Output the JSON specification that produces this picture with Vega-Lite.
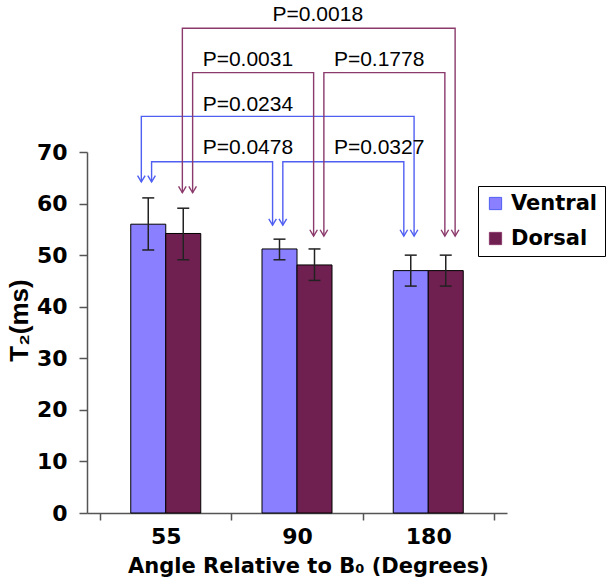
{
  "$schema": "https://vega.github.io/schema/vega-lite/v6.json",
  "width": 420,
  "height": 361,
  "autosize": {"type": "none"},
  "padding": {"left": 87, "top": 152, "right": 103, "bottom": 74},
  "background": "white",
  "config": {"font": "Liberation Sans", "view": {"stroke": null}},
  "datasets": {
    "bars": [
      {"angle": "55", "side": "Ventral", "t2": 56.0, "lo": 51.0, "hi": 61.1},
      {"angle": "55", "side": "Dorsal", "t2": 54.2, "lo": 49.1, "hi": 59.1},
      {"angle": "90", "side": "Ventral", "t2": 51.2, "lo": 49.1, "hi": 53.1},
      {"angle": "90", "side": "Dorsal", "t2": 48.1, "lo": 45.1, "hi": 51.2},
      {"angle": "180", "side": "Ventral", "t2": 47.0, "lo": 44.0, "hi": 50.0},
      {"angle": "180", "side": "Dorsal", "t2": 47.0, "lo": 44.0, "hi": 50.0}
    ],
    "brackets": [
      {"p": "P=0.0478", "grp": "Ventral", "seq": 1, "angle": "55", "slot": "Ventral 2", "y": 64.2},
      {"p": "P=0.0478", "grp": "Ventral", "seq": 2, "angle": "55", "slot": "Ventral 2", "y": 68.1},
      {"p": "P=0.0478", "grp": "Ventral", "seq": 3, "angle": "90", "slot": "Ventral 1", "y": 68.1},
      {"p": "P=0.0478", "grp": "Ventral", "seq": 4, "angle": "90", "slot": "Ventral 1", "y": 55.8},
      {"p": "P=0.0327", "grp": "Ventral", "seq": 1, "angle": "90", "slot": "Ventral 2", "y": 55.8},
      {"p": "P=0.0327", "grp": "Ventral", "seq": 2, "angle": "90", "slot": "Ventral 2", "y": 68.1},
      {"p": "P=0.0327", "grp": "Ventral", "seq": 3, "angle": "180", "slot": "Ventral 1", "y": 68.1},
      {"p": "P=0.0327", "grp": "Ventral", "seq": 4, "angle": "180", "slot": "Ventral 1", "y": 53.7},
      {"p": "P=0.0234", "grp": "Ventral", "seq": 1, "angle": "55", "slot": "Ventral 1", "y": 64.2},
      {"p": "P=0.0234", "grp": "Ventral", "seq": 2, "angle": "55", "slot": "Ventral 1", "y": 76.9},
      {"p": "P=0.0234", "grp": "Ventral", "seq": 3, "angle": "180", "slot": "Ventral 2", "y": 76.9},
      {"p": "P=0.0234", "grp": "Ventral", "seq": 4, "angle": "180", "slot": "Ventral 2", "y": 53.7},
      {"p": "P=0.0031", "grp": "Dorsal", "seq": 1, "angle": "55", "slot": "Dorsal 2", "y": 62.1},
      {"p": "P=0.0031", "grp": "Dorsal", "seq": 2, "angle": "55", "slot": "Dorsal 2", "y": 85.4},
      {"p": "P=0.0031", "grp": "Dorsal", "seq": 3, "angle": "90", "slot": "Dorsal 1", "y": 85.4},
      {"p": "P=0.0031", "grp": "Dorsal", "seq": 4, "angle": "90", "slot": "Dorsal 1", "y": 53.7},
      {"p": "P=0.1778", "grp": "Dorsal", "seq": 1, "angle": "90", "slot": "Dorsal 2", "y": 53.7},
      {"p": "P=0.1778", "grp": "Dorsal", "seq": 2, "angle": "90", "slot": "Dorsal 2", "y": 85.4},
      {"p": "P=0.1778", "grp": "Dorsal", "seq": 3, "angle": "180", "slot": "Dorsal 1", "y": 85.4},
      {"p": "P=0.1778", "grp": "Dorsal", "seq": 4, "angle": "180", "slot": "Dorsal 1", "y": 53.7},
      {"p": "P=0.0018", "grp": "Dorsal", "seq": 1, "angle": "55", "slot": "Dorsal 1", "y": 62.1},
      {"p": "P=0.0018", "grp": "Dorsal", "seq": 2, "angle": "55", "slot": "Dorsal 1", "y": 94.0},
      {"p": "P=0.0018", "grp": "Dorsal", "seq": 3, "angle": "180", "slot": "Dorsal 2", "y": 94.0},
      {"p": "P=0.0018", "grp": "Dorsal", "seq": 4, "angle": "180", "slot": "Dorsal 2", "y": 53.7}
    ],
    "labels": [
      {"label": "P=0.0018", "angle": "90", "slot": "Ventral 1", "y": 96.6},
      {"label": "P=0.0031", "angle": "55", "slot": "Dorsal 2", "y": 87.8},
      {"label": "P=0.1778", "angle": "90", "slot": "Dorsal 2", "y": 87.8},
      {"label": "P=0.0234", "angle": "55", "slot": "Dorsal 2", "y": 79.1},
      {"label": "P=0.0478", "angle": "55", "slot": "Dorsal 2", "y": 70.7},
      {"label": "P=0.0327", "angle": "90", "slot": "Dorsal 2", "y": 70.7}
    ]
  },
  "encoding": {
    "x": {
      "field": "angle",
      "type": "nominal",
      "sort": ["55", "90", "180"],
      "title": "Angle Relative to B₀ (Degrees)",
      "scale": {"domain": ["55", "90", "180"], "paddingInner": 0, "paddingOuter": 0.1},
      "axis": {
        "labelAngle": 0,
        "labelFont": "DejaVu Sans",
        "labelFontSize": 22,
        "labelFontWeight": "bold",
        "labelColor": "black",
        "labelPadding": 6,
        "tickBand": "extent",
        "tickSize": 7,
        "tickColor": "#555555",
        "tickWidth": 1.5,
        "domainColor": "#555555",
        "domainWidth": 1.5,
        "grid": false,
        "titleFont": "DejaVu Sans",
        "titleFontSize": 21,
        "titleFontWeight": "bold",
        "titleColor": "black",
        "titleX": 221,
        "titleY": 53,
        "titleAlign": "center",
        "titleBaseline": "middle"
      }
    }
  },
  "layer": [
    {
      "data": {"name": "bars"},
      "mark": {"type": "bar", "stroke": "black", "strokeWidth": 1},
      "encoding": {
        "xOffset": {"field": "side", "type": "nominal", "sort": ["Ventral", "Dorsal"], "scale": {"domain": ["Ventral", "Dorsal"], "paddingInner": 0, "paddingOuter": 0.875}},
        "y": {
          "field": "t2",
          "type": "quantitative",
          "title": "T₂(ms)",
          "scale": {"domain": [0, 70], "nice": false},
          "axis": {
            "values": [0, 10, 20, 30, 40, 50, 60, 70],
            "labelFont": "DejaVu Sans",
            "labelFontSize": 22,
            "labelFontWeight": "bold",
            "labelColor": "black",
            "labelPadding": 12,
            "tickSize": 8,
            "tickColor": "#555555",
            "tickWidth": 1.5,
            "domainColor": "#555555",
            "domainWidth": 1.5,
            "grid": false,
            "titleFont": "Liberation Sans Narrow, Liberation Sans",
            "titleFontSize": 26,
            "titleFontWeight": "bold",
            "titleColor": "black",
            "titleX": -68,
            "titleY": 168,
            "titleAngle": 270,
            "titleAlign": "center",
            "titleBaseline": "middle"
          }
        },
        "color": {
          "field": "side",
          "type": "nominal",
          "scale": {"domain": ["Ventral", "Dorsal"], "range": ["#8a80ff", "#702050"]},
          "legend": {
            "orient": "none",
            "legendX": 391,
            "legendY": 34,
            "title": null,
            "strokeColor": "black",
            "fillColor": "white",
            "padding": 7,
            "symbolType": "square",
            "symbolSize": 150,
            "symbolStrokeColor": "black",
            "symbolStrokeWidth": 1,
            "labelFont": "DejaVu Sans",
            "labelFontSize": 21,
            "labelFontWeight": "bold",
            "labelColor": "black",
            "labelOffset": 5,
            "rowPadding": 13
          }
        }
      }
    },
    {
      "data": {"name": "bars"},
      "mark": {"type": "rule", "color": "#222222", "strokeWidth": 1.5},
      "encoding": {
        "xOffset": {"field": "side", "type": "nominal", "sort": ["Ventral", "Dorsal"], "scale": {"domain": ["Ventral", "Dorsal"], "paddingInner": 0, "paddingOuter": 0.875}},
        "y": {"field": "lo", "type": "quantitative", "title": "T₂(ms)", "scale": {"domain": [0, 70], "nice": false}},
        "y2": {"field": "hi"}
      }
    },
    {
      "data": {"name": "bars"},
      "mark": {"type": "tick", "orient": "horizontal", "size": 12, "thickness": 1.5, "color": "#222222", "opacity": 1},
      "encoding": {
        "xOffset": {"field": "side", "type": "nominal", "sort": ["Ventral", "Dorsal"], "scale": {"domain": ["Ventral", "Dorsal"], "paddingInner": 0, "paddingOuter": 0.875}},
        "y": {"field": "hi", "type": "quantitative", "title": "T₂(ms)", "scale": {"domain": [0, 70], "nice": false}}
      }
    },
    {
      "data": {"name": "bars"},
      "mark": {"type": "tick", "orient": "horizontal", "size": 12, "thickness": 1.5, "color": "#222222", "opacity": 1},
      "encoding": {
        "xOffset": {"field": "side", "type": "nominal", "sort": ["Ventral", "Dorsal"], "scale": {"domain": ["Ventral", "Dorsal"], "paddingInner": 0, "paddingOuter": 0.875}},
        "y": {"field": "lo", "type": "quantitative", "title": "T₂(ms)", "scale": {"domain": [0, 70], "nice": false}}
      }
    },
    {
      "data": {"name": "brackets"},
      "mark": {"type": "line", "strokeWidth": 1.4, "clip": false},
      "encoding": {
        "xOffset": {"field": "slot", "type": "nominal", "scale": {"domain": ["Ventral 1", "Ventral 2", "gap a", "gap b", "Dorsal 1", "Dorsal 2"], "paddingInner": 0, "paddingOuter": 0, "range": [41.2, 92.5]}},
        "y": {"field": "y", "type": "quantitative", "title": "T₂(ms)", "scale": {"domain": [0, 70], "nice": false}},
        "stroke": {"field": "grp", "type": "nominal", "scale": {"domain": ["Ventral", "Dorsal"], "range": ["#4f5ff2", "#8b3a6c"]}, "legend": null},
        "detail": {"field": "p"},
        "order": {"field": "seq", "type": "quantitative"}
      }
    },
    {
      "data": {"name": "brackets"},
      "transform": [{"filter": "datum.seq == 1 || datum.seq == 4"}],
      "mark": {"type": "point", "shape": "M-0.6,-1L0,0L0.6,-1", "filled": false, "size": 160, "strokeWidth": 1.4, "opacity": 1, "clip": false},
      "encoding": {
        "xOffset": {"field": "slot", "type": "nominal", "scale": {"domain": ["Ventral 1", "Ventral 2", "gap a", "gap b", "Dorsal 1", "Dorsal 2"], "paddingInner": 0, "paddingOuter": 0, "range": [41.2, 92.5]}},
        "y": {"field": "y", "type": "quantitative", "title": "T₂(ms)", "scale": {"domain": [0, 70], "nice": false}},
        "stroke": {"field": "grp", "type": "nominal", "scale": {"domain": ["Ventral", "Dorsal"], "range": ["#4f5ff2", "#8b3a6c"]}, "legend": null}
      }
    },
    {
      "data": {"name": "labels"},
      "transform": [{"filter": "datum.slot == 'Dorsal 2'"}],
      "mark": {"type": "text", "align": "left", "baseline": "middle", "dx": 10, "fontSize": 21, "color": "black", "clip": false},
      "encoding": {
        "xOffset": {"field": "slot", "type": "nominal", "scale": {"domain": ["Ventral 1", "Ventral 2", "gap a", "gap b", "Dorsal 1", "Dorsal 2"], "paddingInner": 0, "paddingOuter": 0, "range": [41.2, 92.5]}},
        "y": {"field": "y", "type": "quantitative", "title": "T₂(ms)", "scale": {"domain": [0, 70], "nice": false}},
        "text": {"field": "label"}
      }
    },
    {
      "data": {"name": "labels"},
      "transform": [{"filter": "datum.slot == 'Ventral 1'"}],
      "mark": {"type": "text", "align": "left", "baseline": "middle", "dx": 0, "fontSize": 21, "color": "black", "clip": false},
      "encoding": {
        "xOffset": {"field": "slot", "type": "nominal", "scale": {"domain": ["Ventral 1", "Ventral 2", "gap a", "gap b", "Dorsal 1", "Dorsal 2"], "paddingInner": 0, "paddingOuter": 0, "range": [41.2, 92.5]}},
        "y": {"field": "y", "type": "quantitative", "title": "T₂(ms)", "scale": {"domain": [0, 70], "nice": false}},
        "text": {"field": "label"}
      }
    }
  ],
  "resolve": {"scale": {"xOffset": "independent"}}
}
